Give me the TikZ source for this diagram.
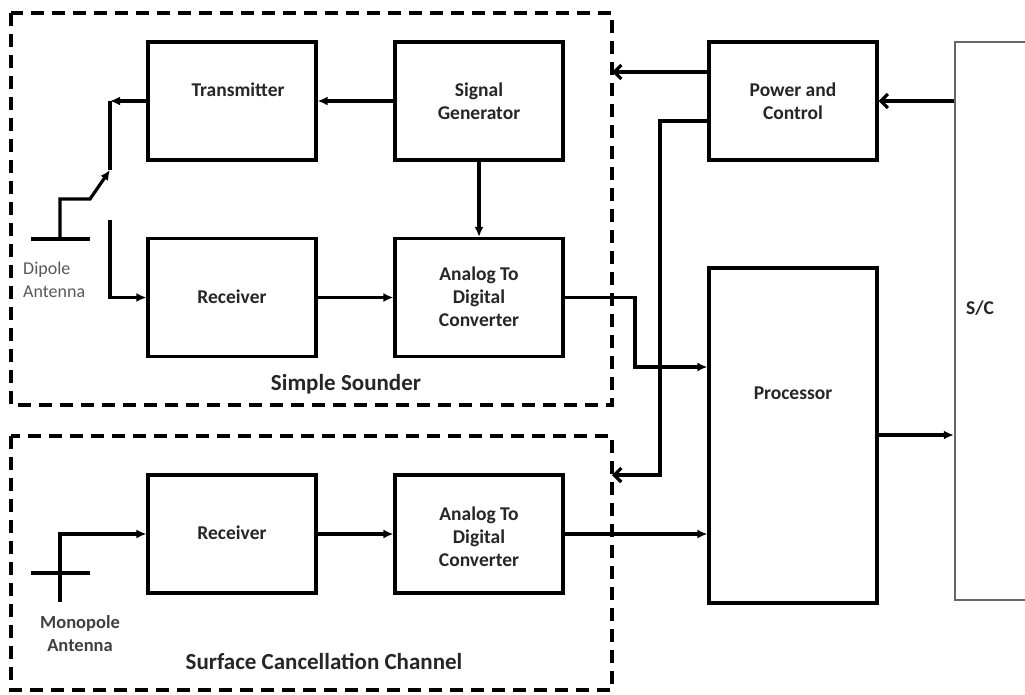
\documentclass[tikz,border=0pt]{standalone}
\usepackage{fontspec}
\setmainfont{Carlito}
\usetikzlibrary{arrows.meta}
\begin{document}
\begin{tikzpicture}[x=1pt,y=-1pt,
  blk/.style={draw=black,line width=3.2pt,minimum width=168pt,minimum height=118pt,inner sep=0pt},
  txt/.style={font=\fontsize{19.5}{23}\selectfont\bfseries,align=center,inner sep=0pt,text=black!85},
  lbl/.style={font=\fontsize{23}{27}\selectfont\bfseries,inner sep=0pt,text=black!85},
  con/.style={line width=3.2pt},
  arr/.style={con,-{Latex[length=10pt,width=9pt]}},
  barb/.style={con,-{Straight Barb[length=7pt,width=14pt]}},
  grp/.style={draw=black,line width=3.2pt,dash pattern=on 13pt off 8pt}]
\clip (0,0) rectangle (1025,694);
\fill[white] (0,0) rectangle (1025,694);
% group boxes
\draw[grp] (11,13) rectangle (612,405);
\draw[grp] (11,436) rectangle (612,690);
\node[lbl] (lss) at (346,384) {Simple Sounder};
\node[lbl] (lscc) at (324,661) {Surface Cancellation Channel};
% blocks
\node[blk] (tx) at (232,101) {};
\node[blk] (sg) at (479,101) {};
\node[blk] (rx1) at (232,297.5) {};
\node[blk] (adc1) at (479,297.5) {};
\node[blk] (rx2) at (232,534) {};
\node[blk] (adc2) at (479,534) {};
\node[blk] (pc) at (793,101) {};
\node[blk,minimum height=335pt] (proc) at (793,435.5) {};
\node[draw=black!60,line width=2.4pt,minimum width=120pt,minimum height=558pt,inner sep=0pt] (sc) at (1015,321) {};
% texts
\node[txt] (ttx) at (238,90) {Transmitter};
\node[txt] (tsg) at (479,101) {Signal\\Generator};
\node[txt] (trx1) at (232,297) {Receiver};
\node[txt] (tadc1) at (479,297) {Analog To\\Digital\\Converter};
\node[txt] (trx2) at (232,533) {Receiver};
\node[txt] (tadc2) at (479,537) {Analog To\\Digital\\Converter};
\node[txt] (tpc) at (793,101) {Power and\\Control};
\node[txt] (tproc) at (793,393) {Processor};
\node[txt] (tsc) at (980,308) {S/C};
\node[font=\fontsize{18}{23}\selectfont,align=left,anchor=west,inner sep=0pt,text=black!65] (tdip) at (23,279.5) {Dipole\\Antenna};
\node[font=\fontsize{18.5}{23}\selectfont\bfseries,align=center,inner sep=0pt,text=black!75] (tmono) at (80,633.5) {Monopole\\Antenna};
% coordinates
\coordinate (swtop) at (110,101);
\coordinate (swtip) at (110,170);
\coordinate (swbot) at (110,220);
\coordinate (dipc) at (60,239);
\coordinate (monc) at (60,602);
% signal path
\draw[arr] (sg.west) -- (tx.east);
\draw[arr] (sg.south) -- (adc1.north);
\draw[arr] (tx.west) -- (swtop);
\draw[con] (swtop) -- (swtip);
\draw[con] (31,239) -- (90,239);
\draw[arr] (dipc) -- (60,199) -- (90,199) -- (swtip);
\draw[arr] (swbot) -- (110,297.5) -- (rx1.west);
\draw[arr] (rx1.east) -- (adc1.west);
\draw[arr] (adc1.east) -- (635,297.5) -- (635,367) -- (proc.west |- 0,367);
% monopole chain
\draw[con] (31,573) -- (90,573);
\draw[arr] (monc) -- (60,534) -- (rx2.west);
\draw[arr] (rx2.east) -- (adc2.west);
\draw[arr] (adc2.east) -- (proc.west |- 0,534);
% power and control
\draw[barb] (pc.west |- 0,72) -- (612,72);
\draw[barb] (pc.west |- 0,121) -- (660,121) -- (660,475) -- (612,475);
\draw[barb] (sc.west |- 0,101) -- (pc.east);
\draw[arr] (proc.east |- 0,435) -- (sc.west |- 0,435);
\end{tikzpicture}
\end{document}
